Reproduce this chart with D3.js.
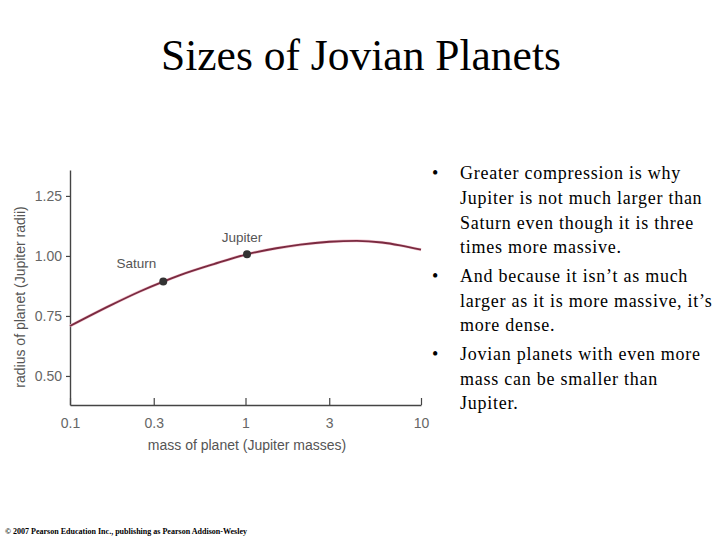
<!DOCTYPE html>
<html>
<head>
<meta charset="utf-8">
<script src="https://cdn.jsdelivr.net/npm/d3@7"></script>
<style>
  body { margin: 0; background: #fff; }
  svg { display: block; }
</style>
</head>
<body>
<div id="chart"></div>
<script>
// curve: planet mass (Jupiter masses) vs radius (Jupiter radii)
var masses = [0.1, 0.17, 0.25, 0.34, 0.42, 0.66, 1.02, 1.5, 2.05, 3.0, 4.3, 6.0, 7.6, 10];
var radii  = [0.708, 0.794, 0.852, 0.893, 0.919, 0.966, 1.007, 1.032, 1.047, 1.059, 1.063, 1.056, 1.044, 1.026];

var planetNames  = ["Saturn", "Jupiter"];
var planetMasses = [0.34, 1.02];
var planetRadii  = [0.893, 1.007];

var xTicks = [0.1, 0.3, 1, 3, 10];
var yTicks = [0.50, 0.75, 1.00, 1.25];

var bullets = [
  ["Greater compression is why", "Jupiter is not much larger than", "Saturn even though it is three", "times more massive."],
  ["And because it isn\u2019t as much", "larger as it is more massive, it\u2019s", "more dense."],
  ["Jovian planets with even more", "mass can be smaller than", "Jupiter."]
];

var width = 720, height = 540;

var svg = d3.select("#chart")
  .append("svg")
  .attr("width", width)
  .attr("height", height);

// title
svg.append("text")
  .attr("x", 361)
  .attr("y", 70)
  .attr("text-anchor", "middle")
  .attr("font-family", "'Liberation Serif', 'Times New Roman', serif")
  .attr("font-size", "43.5px")
  .attr("fill", "#000")
  .text("Sizes of Jovian Planets");

var x = d3.scaleLog().domain([0.1, 10]).range([70, 421]);
var y = d3.scaleLinear().domain([0.379, 1.358]).range([405, 170]);

var axisColor = "#444", labelColor = "#666", sans = "'Liberation Sans', Arial, sans-serif";

// x axis, ticks pointing up
var gx = svg.append("g")
  .attr("transform", "translate(0," + y.range()[0] + ")")
  .call(d3.axisBottom(x)
    .tickValues(xTicks)
    .tickSizeInner(-7)
    .tickSizeOuter(0)
    .tickPadding(13)
    .tickFormat(function(d) { return String(d); }));

// y axis
var gy = svg.append("g")
  .attr("transform", "translate(" + x.range()[0] + ",0)")
  .call(d3.axisLeft(y)
    .tickValues(yTicks)
    .tickSizeInner(4)
    .tickSizeOuter(0)
    .tickPadding(4)
    .tickFormat(d3.format(".2f")));

[gx, gy].forEach(function(g) {
  g.select(".domain").attr("stroke", axisColor).attr("stroke-width", 1.4);
  g.selectAll(".tick line").attr("stroke", axisColor).attr("stroke-width", 1.2);
  g.selectAll(".tick text")
    .attr("fill", labelColor)
    .attr("font-family", sans)
    .attr("font-size", "14px");
});

// axis titles
svg.append("text")
  .attr("x", 247)
  .attr("y", 450)
  .attr("text-anchor", "middle")
  .attr("font-family", sans)
  .attr("font-size", "14px")
  .attr("fill", "#555")
  .text("mass of planet (Jupiter masses)");

svg.append("text")
  .attr("transform", "translate(25,297) rotate(-90)")
  .attr("text-anchor", "middle")
  .attr("font-family", sans)
  .attr("font-size", "14px")
  .attr("fill", "#555")
  .text("radius of planet (Jupiter radii)");

// the curve
var line = d3.line()
  .x(function(d) { return x(d[0]); })
  .y(function(d) { return y(d[1]); })
  .curve(d3.curveMonotoneX);

svg.append("path")
  .datum(d3.zip(masses, radii))
  .attr("d", line)
  .attr("fill", "none")
  .attr("stroke", "#f2c6d0")
  .attr("stroke-width", 3);

svg.append("path")
  .datum(d3.zip(masses, radii))
  .attr("d", line)
  .attr("fill", "none")
  .attr("stroke", "#7a2a40")
  .attr("stroke-width", 1.8);

// planets
var planets = planetNames.map(function(n, i) {
  return {name: n, mass: planetMasses[i], radius: planetRadii[i]};
});

svg.selectAll(".planet")
  .data(planets)
  .enter().append("circle")
  .attr("class", "planet")
  .attr("cx", function(d) { return x(d.mass); })
  .attr("cy", function(d) { return y(d.radius); })
  .attr("r", 4)
  .attr("fill", "#333");

svg.selectAll(".planet-label")
  .data(planets)
  .enter().append("text")
  .attr("class", "planet-label")
  .attr("x", function(d) { return d.name === "Saturn" ? x(d.mass) - 27 : x(d.mass) - 5; })
  .attr("y", function(d) { return d.name === "Saturn" ? y(d.radius) - 14 : y(d.radius) - 12; })
  .attr("text-anchor", "middle")
  .attr("font-family", sans)
  .attr("font-size", "13.5px")
  .attr("fill", "#555")
  .text(function(d) { return d.name; });

// bullet text
var serif = "'Liberation Serif', 'Times New Roman', serif";
var lineH = 24.8, gap = 3.6, yy = 179;
var txt = svg.append("g")
  .attr("font-family", serif)
  .attr("font-size", "18px")
  .attr("fill", "#000");

bullets.forEach(function(par) {
  txt.append("text")
    .attr("x", 432)
    .attr("y", yy)
    .text("\u2022");
  par.forEach(function(s, i) {
    txt.append("text")
      .attr("x", 460)
      .attr("y", yy + i * lineH)
      .attr("letter-spacing", "0.75px")
      .text(s);
  });
  yy += par.length * lineH + gap;
});

// copyright
svg.append("text")
  .attr("x", 5)
  .attr("y", 534)
  .attr("font-family", serif)
  .attr("font-weight", "bold")
  .attr("font-size", "7.5px")
  .attr("textLength", 242)
  .attr("lengthAdjust", "spacingAndGlyphs")
  .attr("fill", "#000")
  .text("\u00a9 2007 Pearson Education Inc., publishing as Pearson Addison-Wesley");
</script>
</body>
</html>
